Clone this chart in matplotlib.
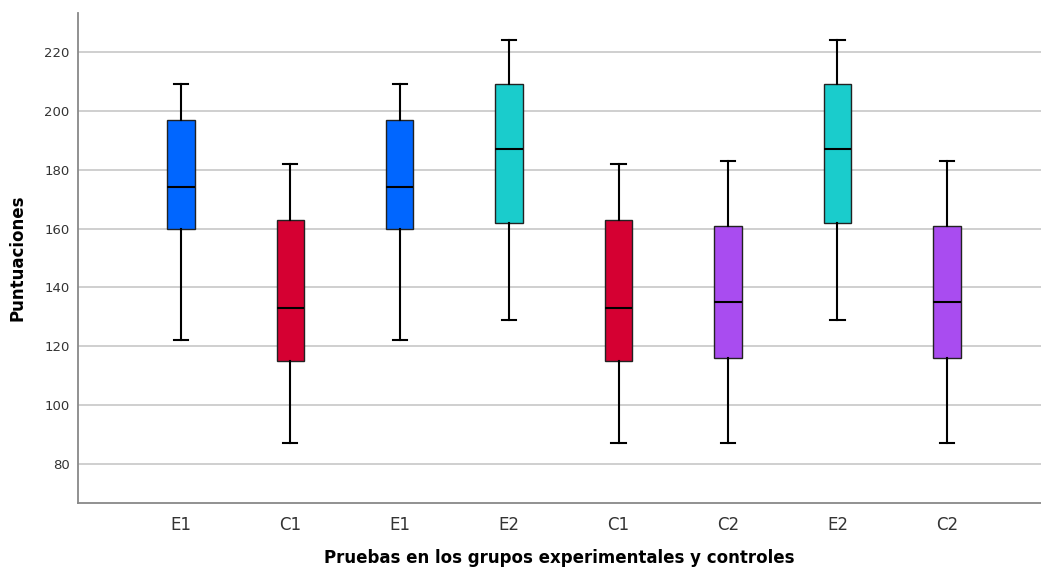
import matplotlib
matplotlib.use("Agg")
import matplotlib.pyplot as plt

# grupos y estadisticos
grupos = ["E1", "C1", "E1", "E2", "C1", "C2", "E2", "C2"]
minimos = [122, 87, 122, 129, 87, 87, 129, 87]
q1 = [160, 115, 160, 162, 115, 116, 162, 116]
medianas = [174, 133, 174, 187, 133, 135, 187, 135]
q3 = [197, 163, 197, 209, 163, 161, 209, 161]
maximos = [209, 182, 209, 224, 182, 183, 224, 183]

colores = {"E1": "#0066FF", "C1": "#D50032", "E2": "#1ACCCC", "C2": "#A94CF0"}

stats = []
for g, lo, a, m, b, hi in zip(grupos, minimos, q1, medianas, q3, maximos):
    stats.append({"label": g, "whislo": lo, "q1": a, "med": m, "q3": b, "whishi": hi, "fliers": []})

fig = plt.figure(figsize=(10.41, 5.68), dpi=100)
ax = fig.add_axes([78 / 1041, 1 - 503 / 568, 1 - 78 / 1041, 490 / 568])

pos = list(range(1, len(grupos) + 1))
bp = ax.bxp(stats, positions=pos, widths=0.25, patch_artist=True, showfliers=False,
            boxprops=dict(edgecolor="#222222", linewidth=1.0),
            medianprops=dict(color="black", linewidth=1.5),
            whiskerprops=dict(color="black", linewidth=1.5),
            capprops=dict(color="black", linewidth=1.5),
            capwidths=0.13, zorder=3)
for patch, g in zip(bp["boxes"], grupos):
    patch.set_facecolor(colores[g])

ax.set_xlim(0.06, 8.86)
ax.set_ylim(66.75, 233.25)
ax.set_yticks([80, 100, 120, 140, 160, 180, 200, 220])
ax.yaxis.grid(True, color="#cccccc", linewidth=1.3, zorder=0)
ax.set_axisbelow(True)
ax.tick_params(axis="both", length=0)
ax.tick_params(axis="y", labelsize=9.5, labelcolor="#333333", pad=6)
ax.tick_params(axis="x", labelsize=12, labelcolor="#333333", pad=9)
for s in ["top", "right"]:
    ax.spines[s].set_visible(False)
for s in ["left", "bottom"]:
    ax.spines[s].set_color("#888888")
    ax.spines[s].set_linewidth(1.3)

ax.set_ylabel("Puntuaciones", fontsize=12, fontweight="bold", labelpad=13)
ax.set_xlabel("Pruebas en los grupos experimentales y controles", fontsize=12,
              fontweight="bold", labelpad=11)

fig.savefig("out.png", dpi=100)
